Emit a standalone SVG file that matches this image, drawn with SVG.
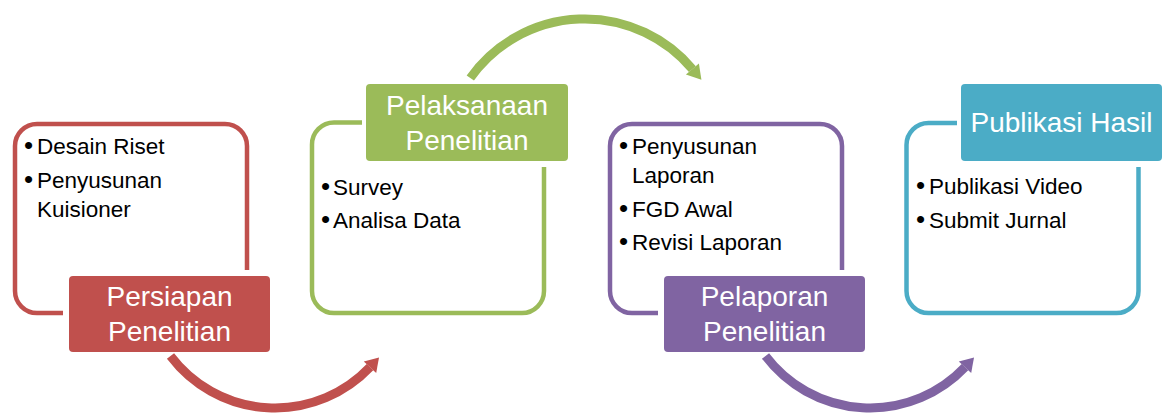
<svg xmlns="http://www.w3.org/2000/svg" width="1167" height="418" viewBox="0 0 1167 418">
<style>
.frame{fill:none;stroke-width:4.5;stroke-linecap:butt}
.lbl{font-family:"Liberation Sans",Arial,sans-serif;font-size:28px;fill:#ffffff;text-anchor:middle}
.item{font-family:"Liberation Sans",Arial,sans-serif;font-size:22.5px;fill:#000000}
.b{font-size:26px}
.arc{fill:none;stroke-width:9;stroke-linecap:butt}
.red{stroke:#C0504D}.green{stroke:#9BBB59}.purple{stroke:#8064A2}.cyan{stroke:#4BACC6}
</style>
<rect x="0" y="0" width="1167" height="418" fill="#ffffff"/>
<g id="connectors">
<path class="arc red" d="M170.5 356 A131 131 0 0 0 370 367.2"/>
<polygon fill="#C0504D" points="379,357.5 376.2,373 363.8,361.4"/>
<path class="arc green" d="M470.3 78 A140.5 140.5 0 0 1 692.4 69.1"/>
<polygon fill="#9BBB59" points="701.4,79.8 698.9,63.6 685.9,74.6"/>
<path class="arc purple" d="M765.5 356 A131 131 0 0 0 965 367.2"/>
<polygon fill="#8064A2" points="974,357.5 971.2,373 958.8,361.4"/>
</g>
<g id="persiapan">
<path class="frame red" d="M63 313 H37 A22 22 0 0 1 15 291 V146 A22 22 0 0 1 37 124 H225 A22 22 0 0 1 247 146 V270"/>
<rect x="69" y="276" width="201" height="76" rx="4" fill="#C0504D"/>
<text class="lbl" x="169.5" y="306">Persiapan</text>
<text class="lbl" x="169.5" y="341">Penelitian</text>
<text class="item" y="154"><tspan class="b" x="24">•</tspan><tspan x="37">Desain Riset</tspan></text>
<text class="item" y="188"><tspan class="b" x="24">•</tspan><tspan x="37">Penyusunan</tspan></text>
<text class="item" x="37" y="217">Kuisioner</text>
</g>
<g id="pelaksanaan">
<path class="frame green" d="M362 122.5 H334 A22 22 0 0 0 312 144.5 V291 A22 22 0 0 0 334 313 H522 A22 22 0 0 0 544 291 V167"/>
<rect x="366" y="84" width="202" height="77" rx="4" fill="#9BBB59"/>
<text class="lbl" x="467" y="115">Pelaksanaan</text>
<text class="lbl" x="467" y="150">Penelitian</text>
<text class="item" y="195"><tspan class="b" x="321">•</tspan><tspan x="333">Survey</tspan></text>
<text class="item" y="228"><tspan class="b" x="321">•</tspan><tspan x="333">Analisa Data</tspan></text>
</g>
<g id="pelaporan">
<path class="frame purple" d="M658 313 H632 A22 22 0 0 1 610 291 V146 A22 22 0 0 1 632 124 H820 A22 22 0 0 1 842 146 V270"/>
<rect x="664" y="276" width="201" height="76" rx="4" fill="#8064A2"/>
<text class="lbl" x="764.5" y="306">Pelaporan</text>
<text class="lbl" x="764.5" y="341">Penelitian</text>
<text class="item" y="154"><tspan class="b" x="619">•</tspan><tspan x="632">Penyusunan</tspan></text>
<text class="item" x="632" y="183">Laporan</text>
<text class="item" y="217"><tspan class="b" x="619">•</tspan><tspan x="632">FGD Awal</tspan></text>
<text class="item" y="250"><tspan class="b" x="619">•</tspan><tspan x="632">Revisi Laporan</tspan></text>
</g>
<g id="publikasi">
<path class="frame cyan" d="M957 123 H928.5 A22 22 0 0 0 906.5 145 V291 A22 22 0 0 0 928.5 313 H1116.5 A22 22 0 0 0 1138.5 291 V167"/>
<rect x="961" y="84" width="201" height="77" rx="4" fill="#4BACC6"/>
<text class="lbl" x="1061.5" y="132">Publikasi Hasil</text>
<text class="item" y="194"><tspan class="b" x="916">•</tspan><tspan x="929">Publikasi Video</tspan></text>
<text class="item" y="228"><tspan class="b" x="916">•</tspan><tspan x="929">Submit Jurnal</tspan></text>
</g>
</svg>
